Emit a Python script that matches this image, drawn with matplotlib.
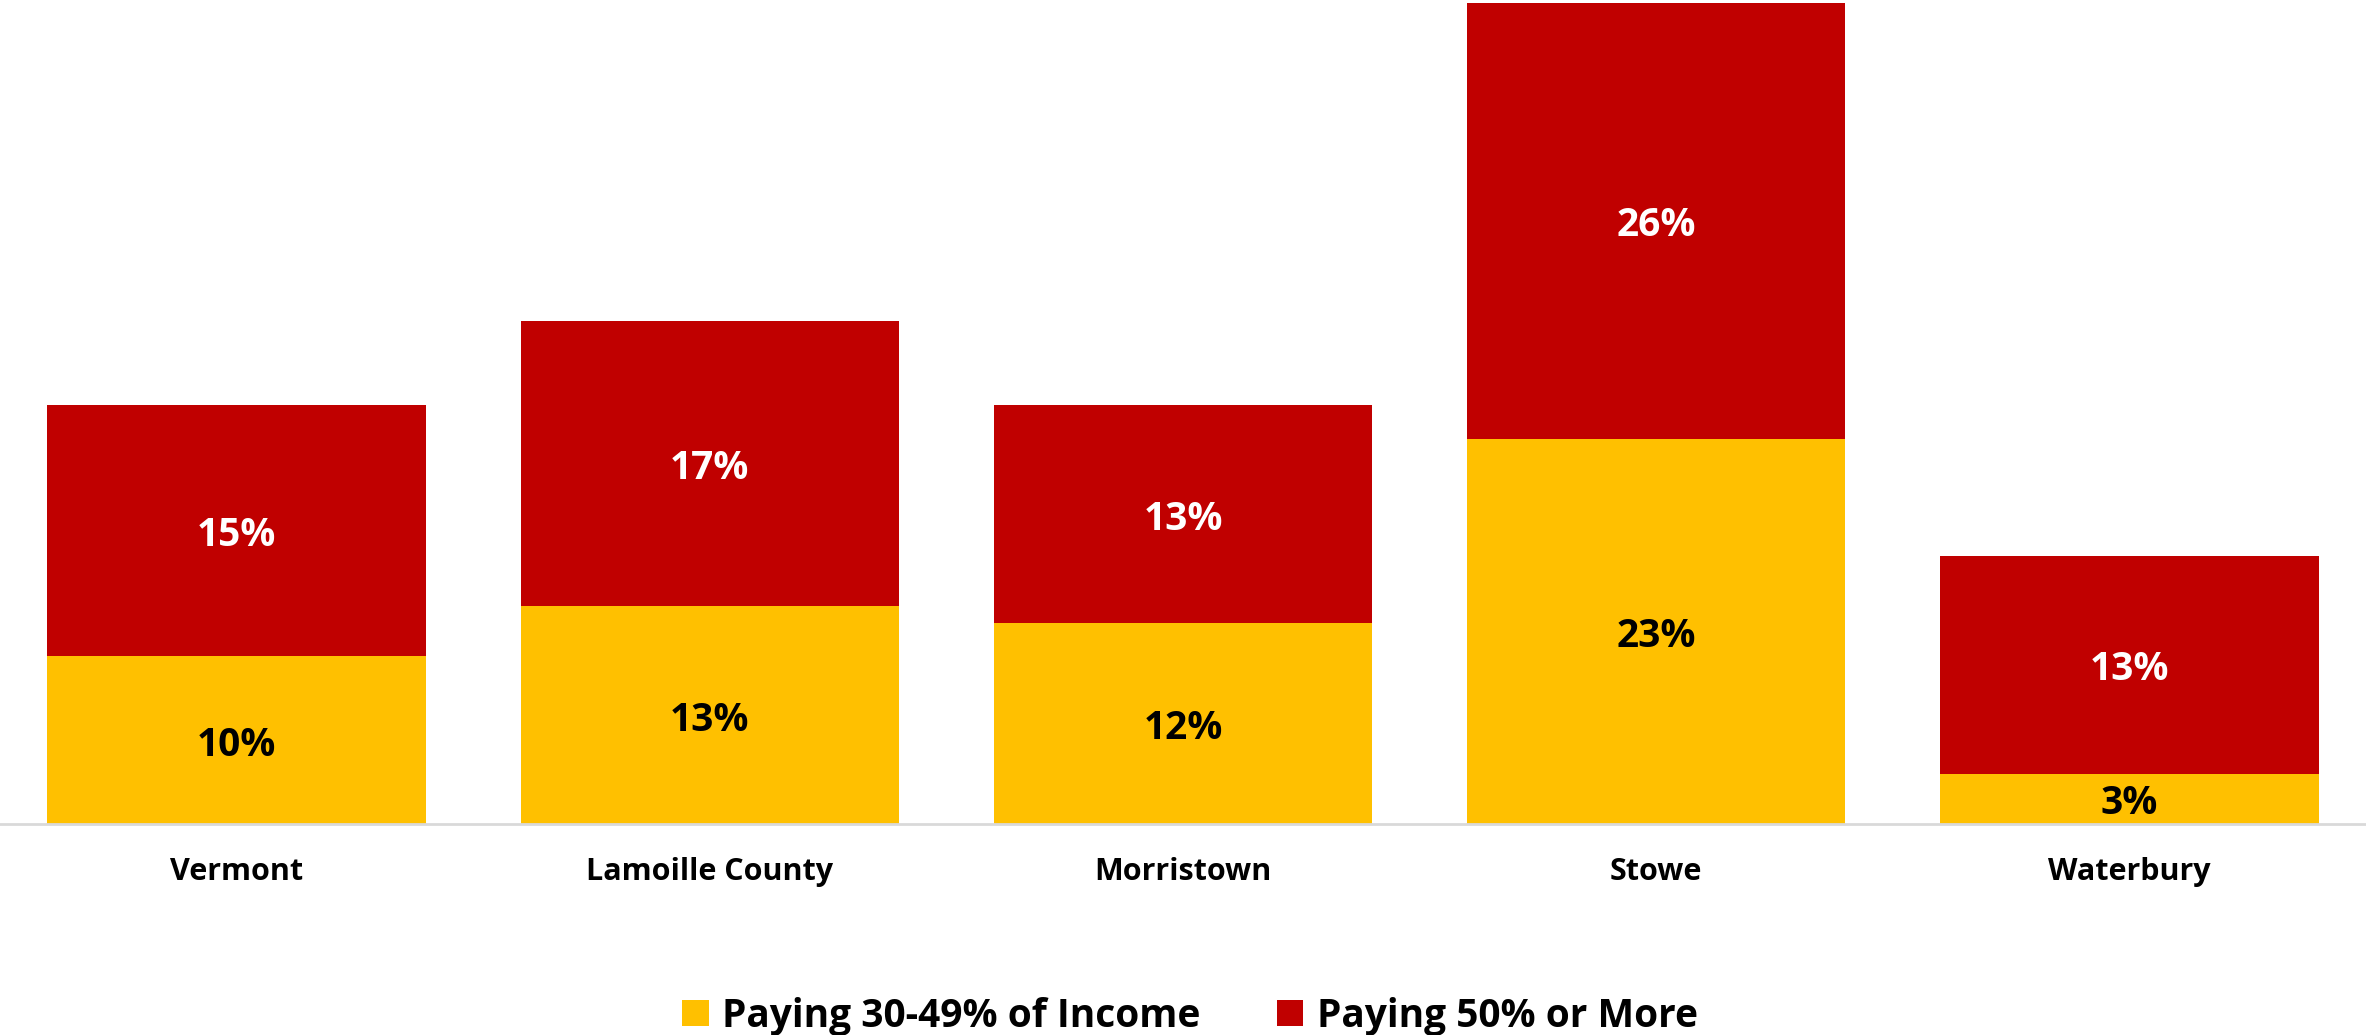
import matplotlib
matplotlib.use("Agg")
import matplotlib.pyplot as plt
from matplotlib.patches import Patch

categories = ["Vermont", "Lamoille County", "Morristown", "Stowe", "Waterbury"]
pay_30_49 = [10, 13, 12, 23, 3]
pay_50_plus = [15, 17, 13, 26, 13]
series_names = ["Paying 30-49% of Income", "Paying 50% or More"]

YELLOW = "#FFC000"
RED = "#C00000"
FONT = ["Open Sans", "DejaVu Sans"]
plt.rcParams["font.family"] = FONT

W, H = 2366, 1035
fig = plt.figure(figsize=(W / 100, H / 100), dpi=100)
ax = fig.add_axes([0, 1 - 824 / H, 1, (824 - 3) / H])

x = list(range(len(categories)))
ax.bar(x, pay_30_49, width=0.8, color=YELLOW, edgecolor="none")
ax.bar(x, pay_50_plus, width=0.8, bottom=pay_30_49, color=RED, edgecolor="none")

for i in x:
    ax.text(i, pay_30_49[i] / 2 - 0.3, f"{pay_30_49[i]}%", ha="center", va="center",
            fontsize=28, fontweight="bold", color="black")
    ax.text(i, pay_30_49[i] + pay_50_plus[i] / 2 - 0.3, f"{pay_50_plus[i]}%", ha="center",
            va="center", fontsize=28, fontweight="bold", color="white")

ax.set_xlim(-0.5, 4.5)
ax.set_ylim(0, 49)
ax.set_yticks([])
ax.set_xticks(x)
ax.set_xticklabels(categories, fontsize=22, fontweight="bold")
ax.tick_params(axis="x", length=0, pad=24)
for s in ["top", "right", "left"]:
    ax.spines[s].set_visible(False)
ax.spines["bottom"].set_color("#D9D9D9")
ax.spines["bottom"].set_linewidth(2)

handles = [Patch(facecolor=YELLOW, edgecolor="none"), Patch(facecolor=RED, edgecolor="none")]
fig.legend(handles, series_names, loc="center", bbox_to_anchor=(0.503, 1 - 1016 / H),
           ncol=2, frameon=False, prop={"size": 28, "weight": "bold"},
           handlelength=0.68, handleheight=0.68, handletextpad=0.35, columnspacing=1.95)

fig.savefig("out.png", dpi=100)
